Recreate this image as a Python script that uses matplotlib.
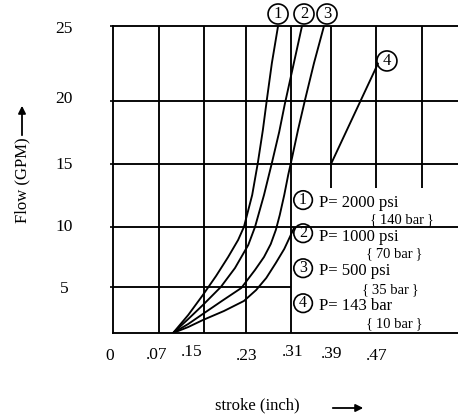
import numpy as np
import matplotlib
matplotlib.use('Agg')
import matplotlib.pyplot as plt
from matplotlib.patches import FancyArrowPatch
from matplotlib.transforms import ScaledTranslation

plt.rcParams['font.family'] = ['Liberation Serif', 'DejaVu Serif']

# ---------------- data ----------------
x_ticks = [0, .07, .15, .23, .31, .39, .47]
x_tick_labels = ['0', '.07', '.15', '.23', '.31', '.39', '.47']
x_grid_full = [.07, .15, .23, .31]
x_grid_part = [.39, .47, .55]
y_ticks = [5, 10, 15, 20, 25]
y_tick_labels = ['5', '10', '15', '20', '25']

curve1_x = [.095, .122, .148, .173, .196, .215, .226, .241, .251, .260, .267, .276, .287]
curve1_y = [0, 1.96, 4.13, 5.92, 7.5, 8.92, 10, 12.54, 15.08, 17.7, 20.07, 22.53, 25]
curve2_x = [.095, .122, .148, .182, .209, .234, .246, .262, .276, .289, .299, .314, .332]
curve2_y = [0, 1.52, 3.04, 5, 6.58, 8.5, 10, 12.54, 15.08, 17.54, 19.76, 22.27, 25]
curve3_x = [.095, .122, .148, .184, .221, .246, .262, .274, .283, .290, .298, .305,
            .312, .324, .338, .356, .376]
curve3_y = [0, .98, 2.07, 3.48, 4.89, 6.42, 7.5, 8.58, 9.75, 10.95, 12.54, 14.13,
            15.48, 17.7, 20.07, 22.53, 25]
curve4_x = [.095, .122, .148, .188, .226, .248, .266, .283, .298, .308, .316]
curve4_y = [0, .65, 1.41, 2.39, 3.48, 4.67, 5.75, 7.0, 8.17, 9.17, 9.92]
line4_x = [.39, .4735]
line4_y = [15, 22.5]

top_ids = ['1', '2', '3']
top_ids_x = [.287, .336, .382]
legend_ids = ['1', '2', '3', '4']
legend_psi = ['P= 2000 psi', 'P= 1000 psi', 'P= 500 psi', 'P= 143 bar']
legend_bar = ['{\u2009140 bar\u2009}', '{\u200970 bar\u2009}',
              '{\u200935 bar\u2009}', '{\u200910 bar\u2009}']

# ---------------- scales (grid spacing of the drawing) ----------------
x_knots = [0, .07, .15, .23, .31, .39, .47, .55]
x_pos = [0, 46, 91, 133, 178, 218, 263, 309]
y_knots = [0, 5, 10, 15, 20, 25]
y_pos = [0, 46, 106, 169, 232, 307]


def make_funcs(k, p):
    k = np.asarray(k, float)
    p = np.asarray(p, float)

    def interp(v, a, b):
        v = np.asarray(v, float)
        out = np.interp(v, a, b)
        lo_s = (b[1] - b[0]) / (a[1] - a[0])
        hi_s = (b[-1] - b[-2]) / (a[-1] - a[-2])
        out = np.where(v < a[0], b[0] + (v - a[0]) * lo_s, out)
        out = np.where(v > a[-1], b[-1] + (v - a[-1]) * hi_s, out)
        return out

    return (lambda v: interp(v, k, p)), (lambda u: interp(u, p, k))


W, H = 458, 416
fig = plt.figure(figsize=(W / 100, H / 100), dpi=100)
ax = fig.add_axes([113 / W, 83 / H, 345 / W, 307 / H])
ax.set_xscale('function', functions=make_funcs(x_knots, x_pos))
ax.set_yscale('function', functions=make_funcs(y_knots, y_pos))
xmax = .6126
ax.set_xlim(0, xmax)
ax.set_ylim(0, 25)

LW = 1.35
for s in ['left', 'top', 'bottom']:
    ax.spines[s].set_linewidth(LW)
ax.spines['right'].set_visible(False)

ax.vlines(x_grid_full, 0, 25, color='black', lw=LW)
ax.vlines(x_grid_part, 13.1, 25, color='black', lw=LW)
ax.hlines([10, 15, 20], 0, xmax, color='black', lw=LW)
ax.hlines(5, 0, .31, color='black', lw=LW)

for cx, cy in [(curve1_x, curve1_y), (curve2_x, curve2_y),
               (curve3_x, curve3_y), (curve4_x, curve4_y), (line4_x, line4_y)]:
    ax.plot(cx, cy, color='black', lw=LW, solid_joinstyle='round',
            solid_capstyle='round')

circ = dict(boxstyle='circle,pad=0.12', fc='none', ec='black', lw=1.2)
for t, x in zip(top_ids, top_ids_x):
    ax.text(x, 25.8, t, ha='center', va='center', fontsize=12,
            bbox=circ, clip_on=False)
ax.text(.489, 22.67, '4', ha='center', va='center', fontsize=12, bbox=circ)

circ2 = dict(boxstyle='circle,pad=0.08', fc='none', ec='black', lw=1.2)
id_fy = [.433, .325, .211, .097]
psi_fy = [.4104, .2997, .1889, .0749]
bar_fx = [.745, .733, .722, .733]
bar_fy = [.3583, .2476, .1303, .0195]
for i in range(4):
    ax.text(.551, id_fy[i], legend_ids[i], transform=ax.transAxes,
            ha='center', va='center', fontsize=11.5, bbox=circ2)
    ax.text(.597, psi_fy[i], legend_psi[i], transform=ax.transAxes,
            ha='left', va='baseline', fontsize=12)
    ax.text(bar_fx[i], bar_fy[i], legend_bar[i], transform=ax.transAxes,
            ha='left', va='baseline', fontsize=10.5)

ax.set_yticks(y_ticks, y_tick_labels)
ax.tick_params(axis='y', direction='out', length=2.2, width=1.2,
               pad=33, labelsize=12.5)
ax.set_xticks(x_ticks, x_tick_labels)
ax.tick_params(axis='x', length=0, pad=11, labelsize=12.5)
ax.xaxis.set_minor_locator(matplotlib.ticker.NullLocator())
ax.yaxis.set_minor_locator(matplotlib.ticker.NullLocator())

# small hand-lettering offsets of the tick labels (pixels)
x_off = [(-3, 0), (-2, 1), (-12, 4), (1, 0), (2, 4), (1, 2), (1, 0.5)]
for lbl, (dx, dy) in zip(ax.get_xticklabels(), x_off):
    lbl.set_transform(lbl.get_transform() +
                      ScaledTranslation(dx / 100, dy / 100, fig.dpi_scale_trans))
y_off = [(0, 0), (0, 2), (0, 1), (0, 4), (0, -1)]
for lbl, (dx, dy) in zip(ax.get_yticklabels(), y_off):
    lbl.set_ha('center')
    lbl.set_transform(lbl.get_transform() +
                      ScaledTranslation(dx / 100, dy / 100, fig.dpi_scale_trans))

fig.text(22 / W, 1 - 180 / H, 'Flow (GPM)', rotation=90, ha='center',
         va='center', fontsize=12)
fig.add_artist(FancyArrowPatch((22 / W, 1 - 138 / H), (22 / W, 1 - 103 / H),
                               transform=fig.transFigure, arrowstyle='-|>',
                               mutation_scale=11, lw=1.3, color='black'))
fig.text(257 / W, 1 - 405 / H, 'stroke (inch)', ha='center', va='center',
         fontsize=12)
fig.add_artist(FancyArrowPatch((330 / W, 1 - 408 / H), (366 / W, 1 - 408 / H),
                               transform=fig.transFigure, arrowstyle='-|>',
                               mutation_scale=11, lw=1.3, color='black'))

fig.savefig('out.png', dpi=100)
